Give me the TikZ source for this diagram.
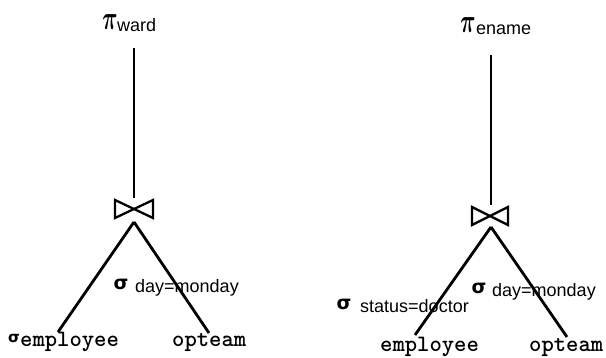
\documentclass[tikz,border=0pt]{standalone}
\usepackage{fontspec}
\usepackage{amsmath}
\setmainfont{Liberation Sans}
\newfontfamily\grkfont{DejaVu Sans}
\tikzset{
  edge/.style={line width=2.8pt},
  tie/.style={line width=2.3pt, line join=miter},
  lbl/.style={inner sep=0pt, anchor=base west, font=\fontsize{18}{18}\selectfont},
  rel/.style={inner sep=0pt, anchor=base west, font=\ttfamily\bfseries\fontsize{23.5}{23.5}\selectfont},
  sig/.style={inner sep=0pt, font=\grkfont\bfseries\fontsize{19}{19}\selectfont},
  pisym/.style={inner sep=0pt}
}
\newcommand{\bigpi}{\scalebox{0.85}[1.35]{\fontsize{24}{24}\selectfont$\boldsymbol{\pi}$}}
\begin{document}
\begin{tikzpicture}[x=1pt,y=-1pt]
\useasboundingbox (0,0) rectangle (606,358);
% ---- left tree ----
\node[pisym] (pi1) at (110,22) {\bigpi};
\node[lbl] (ward) at (117,32) {ward};
\coordinate (top1) at (134,48);
\coordinate (tieT1) at (134,198);
\coordinate (apex1) at (134,222);
\coordinate (le1) at (58,332);
\coordinate (re1) at (209,333);
\draw[edge] (top1) -- (tieT1);
\draw[tie] (115,200) -- (153,218) -- (153,200) -- (115,218) -- cycle;
\draw[edge] (apex1) -- (le1);
\draw[edge] (apex1) -- (re1);
\node[sig] (s1) at (121,284) {σ};
\node[lbl] (dm1) at (135,293) {day=monday};
\node[sig, font=\grkfont\bfseries\fontsize{15}{15}\selectfont] (s2) at (14,339) {σ};
\node[rel] (emp1) at (20,347) {employee};
\node[rel] (opt1) at (172,347) {opteam};
% ---- right tree ----
\node[pisym] (pi2) at (468,25) {\bigpi};
\node[lbl] (ename) at (476,35) {ename};
\coordinate (top2) at (491,55);
\coordinate (tieT2) at (491,205);
\coordinate (apex2) at (491,227);
\coordinate (le2) at (415,335);
\coordinate (re2) at (567,337);
\draw[edge] (top2) -- (tieT2);
\draw[tie] (472,207) -- (508,225) -- (508,207) -- (472,225) -- cycle;
\draw[edge] (apex2) -- (le2);
\draw[edge] (apex2) -- (re2);
\node[sig] (s3) at (344,304) {σ};
\node[lbl] (sd) at (360,313) {status=doctor};
\node[sig] (s4) at (479,288) {σ};
\node[lbl] (dm2) at (492,297) {day=monday};
\node[rel] (emp2) at (380,352) {employee};
\node[rel] (opt2) at (529,352) {opteam};
\end{tikzpicture}
\end{document}
